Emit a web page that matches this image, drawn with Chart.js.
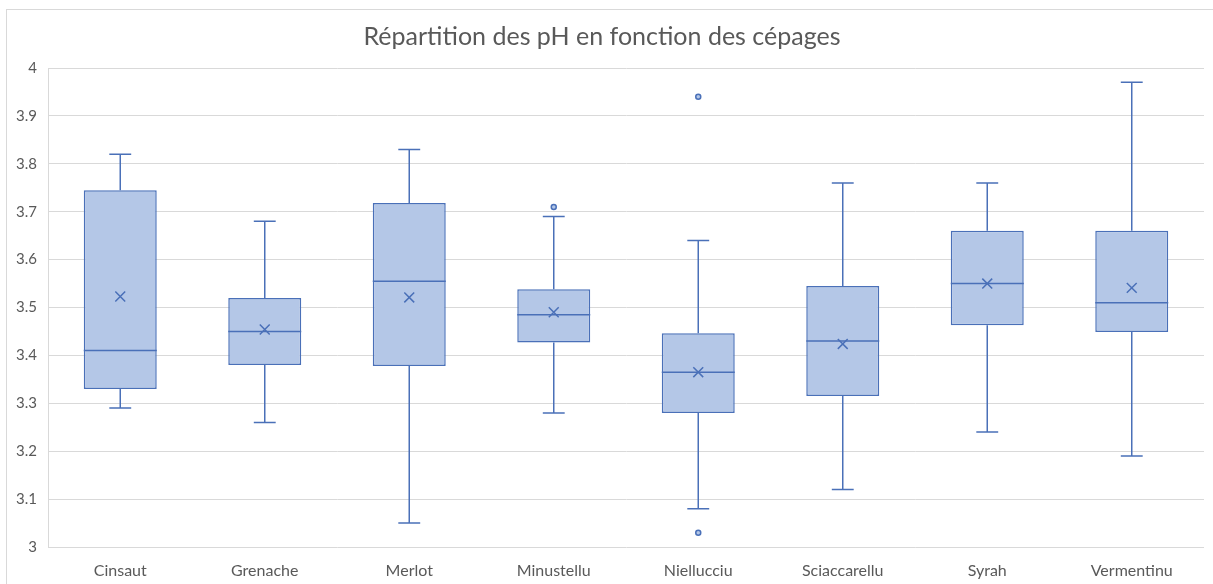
<!DOCTYPE html>
<html>
<head>
<meta charset="utf-8">
<script src="https://cdn.jsdelivr.net/npm/chart.js@4"></script>
<style>
  html, body { margin: 0; padding: 0; background: #fff; }
  #wrap { position: relative; width: 1213px; height: 584px; }
</style>
</head>
<body>
<div id="wrap"><canvas id="graphique"></canvas></div>
<script>
const cepages = ["Cinsaut", "Grenache", "Merlot", "Minustellu", "Niellucciu", "Sciaccarellu", "Syrah", "Vermentinu"];
const moustacheBas = [3.29, 3.26, 3.05, 3.28, 3.08, 3.12, 3.24, 3.19];
const q1 = [3.33, 3.38, 3.378, 3.427, 3.28, 3.315, 3.463, 3.449];
const mediane = [3.41, 3.45, 3.555, 3.485, 3.365, 3.43, 3.55, 3.51];
const q3 = [3.745, 3.52, 3.718, 3.538, 3.446, 3.545, 3.66, 3.66];
const moustacheHaut = [3.82, 3.68, 3.83, 3.69, 3.64, 3.76, 3.76, 3.97];
const moyennes = [3.523, 3.454, 3.521, 3.49, 3.365, 3.424, 3.55, 3.541];
const valeursAtypiques = [
  { x: "Minustellu", y: 3.71 },
  { x: "Niellucciu", y: 3.94 },
  { x: "Niellucciu", y: 3.03 }
];

const bleu = "#4a70b8";
const bleuClair = "#b4c7e7";
const police = "Lato, 'Open Sans', sans-serif";

// moustaches + médiane dessinées à partir des barres
const boitePlugin = {
  id: "boite",
  beforeDraw(chart) {
    const ctx = chart.ctx;
    ctx.save();
    ctx.strokeStyle = "#d9d9d9";
    ctx.lineWidth = 1;
    ctx.strokeRect(6.5, 9.5, 1230, 620);
    ctx.restore();
  },
  afterDatasetDraw(chart, args) {
    if (args.index !== 0) return;
    const ctx = chart.ctx;
    const y = chart.scales.y;
    const meta = chart.getDatasetMeta(0);
    ctx.save();
    ctx.strokeStyle = bleu;
    ctx.lineWidth = 1.5;
    meta.data.forEach((bar, i) => {
      const x = bar.x;
      const demi = bar.width / 2;
      const cap = bar.width * 0.15;
      const yBas = y.getPixelForValue(moustacheBas[i]);
      const yHaut = y.getPixelForValue(moustacheHaut[i]);
      const yQ1 = y.getPixelForValue(q1[i]);
      const yQ3 = y.getPixelForValue(q3[i]);
      const yMed = y.getPixelForValue(mediane[i]);
      ctx.beginPath();
      ctx.moveTo(x, yQ3); ctx.lineTo(x, yHaut);
      ctx.moveTo(x - cap, yHaut); ctx.lineTo(x + cap, yHaut);
      ctx.moveTo(x, yQ1); ctx.lineTo(x, yBas);
      ctx.moveTo(x - cap, yBas); ctx.lineTo(x + cap, yBas);
      ctx.moveTo(x - demi, yMed); ctx.lineTo(x + demi, yMed);
      ctx.stroke();
    });
    ctx.restore();
  }
};

new Chart(document.getElementById("graphique"), {
  type: "bar",
  data: {
    labels: cepages,
    datasets: [
      {
        label: "Boîte",
        data: cepages.map((c, i) => [q1[i], q3[i]]),
        backgroundColor: bleuClair,
        borderColor: bleu,
        borderWidth: 1.5,
        borderSkipped: false,
        barPercentage: 0.505,
        categoryPercentage: 1,
        order: 2
      },
      {
        type: "line",
        label: "Moyenne",
        data: moyennes,
        showLine: false,
        pointStyle: "crossRot",
        pointRadius: 7,
        borderColor: bleu,
        borderWidth: 1.5,
        order: 1
      },
      {
        type: "line",
        label: "Valeurs atypiques",
        data: valeursAtypiques,
        showLine: false,
        pointStyle: "circle",
        pointRadius: 2.5,
        backgroundColor: bleuClair,
        borderColor: bleu,
        borderWidth: 1.5,
        order: 0
      }
    ]
  },
  options: {
    responsive: true,
    maintainAspectRatio: false,
    animation: false,
    layout: { padding: { left: 0, right: 9, top: 0, bottom: 0 } },
    plugins: {
      legend: { display: false },
      tooltip: { enabled: false },
      title: {
        display: true,
        text: "Répartition des pH en fonction des cépages",
        color: "#595959",
        font: { family: police, size: 25, weight: "normal" },
        padding: { top: 22, bottom: 16 }
      }
    },
    scales: {
      x: {
        afterFit(scale) { scale.height = 37; },
        grid: { display: false, drawTicks: false },
        border: { display: false },
        ticks: { color: "#595959", font: { family: police, size: 16 }, padding: 14 }
      },
      y: {
        min: 3,
        max: 4,
        afterFit(scale) { scale.width = 48; },
        grid: { color: "#d9d9d9", drawTicks: false },
        border: { display: true, color: "#d9d9d9" },
        ticks: {
          stepSize: 0.1,
          color: "#595959",
          font: { family: police, size: 15 },
          padding: 11,
          callback: (v) => String(parseFloat(v.toFixed(2)))
        }
      }
    }
  },
  plugins: [boitePlugin]
});
</script>
</body>
</html>
